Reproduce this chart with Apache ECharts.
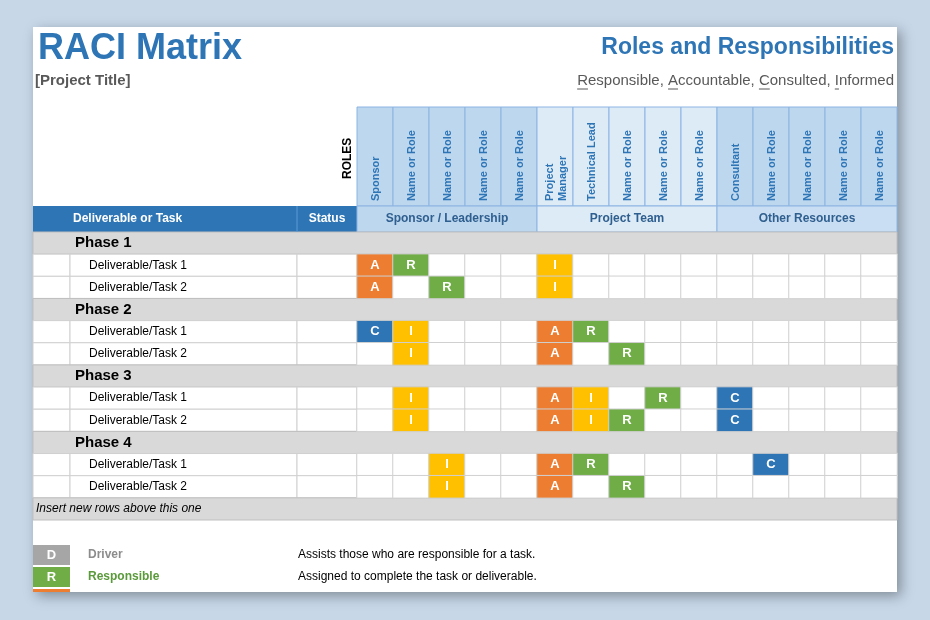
<!DOCTYPE html>
<html><head><meta charset="utf-8">
<script src="https://cdn.jsdelivr.net/npm/echarts@6/dist/echarts.min.js"></script>
<style>html,body{margin:0;background:#c7d7e8}#c{width:930px;height:620px}</style>
</head><body><div id="c"></div>
<script>
var roles = ['Sponsor', 'Name or Role', 'Name or Role', 'Name or Role', 'Name or Role',
    'Project\nManager', 'Technical Lead', 'Name or Role', 'Name or Role', 'Name or Role',
    'Consultant', 'Name or Role', 'Name or Role', 'Name or Role', 'Name or Role'];
var groups = ['Sponsor / Leadership', 'Project Team', 'Other Resources'];
var rows = ['Phase 1', 'Deliverable/Task 1', 'Deliverable/Task 2',
    'Phase 2', 'Deliverable/Task 1', 'Deliverable/Task 2',
    'Phase 3', 'Deliverable/Task 1', 'Deliverable/Task 2',
    'Phase 4', 'Deliverable/Task 1', 'Deliverable/Task 2',
    'Insert new rows above this one'];
// one string per row, one char per role column ('.' = empty, '#' = phase/grey row)
var assign = [
    '###############',
    'AR...I.........',
    'A.R..I.........',
    '###############',
    'CI...AR........',
    '.I...A.R.......',
    '###############',
    '.I...AI.R.C....',
    '.I...AIR..C....',
    '###############',
    '..I..AR....C...',
    '..I..A.R.......',
    '###############'
];
var legend = [['D', 'Driver', 'Assists those who are responsible for a task.'],
    ['R', 'Responsible', 'Assigned to complete the task or deliverable.']];

var letters = ['.', 'A', 'R', 'I', 'C'];
var colors = { A: '#ed7d31', R: '#70ad47', I: '#ffc000', C: '#2e75b6', D: '#a6a6a6' };
var L = 357, T = 232, CW = 36, RH = 288 / rows.length, X0 = 33, X1 = 897;

var data = [];
assign.forEach(function (s, r) {
    if (s[0] === '#') return;
    for (var c = 0; c < s.length; c++) data.push([c, r, letters.indexOf(s[c])]);
});

var ctx = document.createElement('canvas').getContext('2d');
function tw(t, font) { ctx.font = font; return ctx.measureText(t).width; }

var g = [];
g.push({ type: 'rect', z: -20, shape: { x: X0, y: 27, width: X1 - X0, height: 565 },
    style: { fill: '#fff', shadowBlur: 12, shadowColor: 'rgba(0,0,0,0.35)', shadowOffsetX: 4, shadowOffsetY: 4 } });
// titles
g.push({ type: 'text', left: 38, top: 31, style: { text: 'RACI Matrix', font: 'bold 36px Arial, Liberation Sans', fill: '#2e75b6' } });
g.push({ type: 'text', left: 35, top: 73, style: { text: '[Project Title]', font: 'bold 15px Arial, Liberation Sans', fill: '#595959' } });
g.push({ type: 'text', right: 36, top: 36, style: { text: 'Roles and Responsibilities', font: 'bold 23px Arial, Liberation Sans', fill: '#2e75b6' } });
var sub = 'Responsible, Accountable, Consulted, Informed', subFont = '15px Arial, Liberation Sans';
var subX = 894 - tw(sub, subFont);
g.push({ type: 'text', x: subX, y: 73, style: { text: sub, font: subFont, fill: '#595959' } });
['R', 'A', 'C', 'I'].forEach(function (ch) {
    var i = ch === 'R' ? 0 : sub.indexOf(', ' + ch) + 2;
    var x = subX + tw(sub.slice(0, i), subFont);
    g.push({ type: 'line', shape: { x1: x, y1: 89, x2: x + tw(ch, subFont), y2: 89 }, style: { stroke: '#595959', lineWidth: 1 } });
});
// role header cells
var hdrFill = ['#bdd7ee', '#ddebf7', '#bdd7ee'];
var bandFill = ['#bdd7ee', '#ddebf7', '#c9def2'];
roles.forEach(function (name, i) {
    var x = L + i * CW;
    g.push({ type: 'rect', z: -10, shape: { x: x, y: 107, width: CW, height: 99 },
        style: { fill: hdrFill[Math.floor(i / 5)], stroke: '#8db4e2', lineWidth: 1 } });
    g.push({ type: 'text', z: 5, x: x + CW / 2 + 1, y: 201, rotation: Math.PI / 2,
        style: { text: name, font: 'bold 11px Arial, Liberation Sans', fill: '#2e75b6', align: 'left', verticalAlign: 'middle', lineHeight: 13 } });
});
g.push({ type: 'text', x: 348, y: 179, rotation: Math.PI / 2,
    style: { text: 'ROLES', font: 'bold 12px Arial, Liberation Sans', fill: '#000', align: 'left', verticalAlign: 'middle' } });
// header band
g.push({ type: 'rect', z: -10, shape: { x: X0, y: 206, width: L - X0, height: 26 }, style: { fill: '#2e75b6' } });
g.push({ type: 'line', shape: { x1: 297, y1: 206, x2: 297, y2: 232 }, style: { stroke: '#5b9bd5' } });
g.push({ type: 'text', x: 73, y: 219, style: { text: 'Deliverable or Task', font: 'bold 12px Arial, Liberation Sans', fill: '#fff', verticalAlign: 'middle' } });
g.push({ type: 'text', x: 327, y: 219, style: { text: 'Status', font: 'bold 12px Arial, Liberation Sans', fill: '#fff', align: 'center', verticalAlign: 'middle' } });
groups.forEach(function (name, i) {
    var x = L + i * 5 * CW;
    g.push({ type: 'rect', z: -10, shape: { x: x, y: 206, width: 5 * CW, height: 26 },
        style: { fill: bandFill[i], stroke: '#8db4e2', lineWidth: 1 } });
    g.push({ type: 'text', x: x + 2.5 * CW, y: 219, style: { text: name, font: 'bold 12px Arial, Liberation Sans', fill: '#2f5f8f', align: 'center', verticalAlign: 'middle' } });
});
// row structure
rows.forEach(function (name, r) {
    var y = T + r * RH;
    if (assign[r][0] === '#') {
        g.push({ type: 'rect', z: -10, shape: { x: X0, y: y, width: X1 - X0, height: RH },
            style: { fill: '#d9d9d9', stroke: '#bfbfbf', lineWidth: 1 } });
    } else {
        [[X0, 70 - X0], [70, 227], [297, 60]].forEach(function (c) {
            g.push({ type: 'rect', z: -10, shape: { x: c[0], y: y, width: c[1], height: RH },
                style: { fill: '#fff', stroke: '#d0d0d0', lineWidth: 1 } });
        });
    }
});
// legend
legend.forEach(function (l, i) {
    var y = 545 + i * 22;
    g.push({ type: 'rect', shape: { x: X0, y: y, width: 37, height: 20 }, style: { fill: colors[l[0]] } });
    g.push({ type: 'text', x: X0 + 18.5, y: y + 10, style: { text: l[0], font: 'bold 13px Arial, Liberation Sans', fill: '#fff', align: 'center', verticalAlign: 'middle' } });
    g.push({ type: 'text', x: 88, y: y + 10, style: { text: l[1], font: 'bold 12px Arial, Liberation Sans', fill: l[0] === 'D' ? '#8c8c8c' : '#5a9a3a', verticalAlign: 'middle' } });
    g.push({ type: 'text', x: 298, y: y + 10, style: { text: l[2], font: '12px Arial, Liberation Sans', fill: '#000', verticalAlign: 'middle' } });
});
g.push({ type: 'rect', shape: { x: X0, y: 589, width: 37, height: 3 }, style: { fill: colors.A } });

var chart = echarts.init(document.getElementById('c'));
chart.setOption({
    animation: false,
    graphic: g,
    grid: { left: L, top: T, width: CW * roles.length, height: 288 },
    xAxis: { type: 'category', data: roles, show: false },
    yAxis: {
        type: 'category', data: rows, inverse: true,
        axisLine: { show: false }, axisTick: { show: false }, splitLine: { show: false },
        axisLabel: {
            align: 'left', margin: 322,
            formatter: function (v, i) {
                if (i === rows.length - 1) return '{n|' + v + '}';
                return assign[i][0] === '#' ? '{p|' + v + '}' : '{t|' + v + '}';
            },
            rich: {
                p: { fontFamily: 'Arial, Liberation Sans', fontWeight: 'bold', fontSize: 15, color: '#000', padding: [0, 0, 0, 40] },
                t: { fontFamily: 'Arial, Liberation Sans', fontSize: 12, color: '#000', padding: [0, 0, 0, 54] },
                n: { fontFamily: 'Arial, Liberation Sans', fontStyle: 'italic', fontSize: 12, color: '#000', padding: [0, 0, 0, 1] }
            }
        }
    },
    visualMap: {
        show: false, type: 'piecewise', dimension: 2,
        pieces: [
            { value: 0, color: '#fff' },
            { value: 1, color: colors.A },
            { value: 2, color: colors.R },
            { value: 3, color: colors.I },
            { value: 4, color: colors.C }
        ]
    },
    series: [{
        type: 'heatmap',
        data: data,
        itemStyle: { borderColor: '#d0d0d0', borderWidth: 1 },
        label: {
            show: true, formatter: function (p) { var k = p.value[2]; return k ? letters[k] : ''; },
            color: '#fff', fontWeight: 'bold', fontSize: 13, fontFamily: 'Arial, Liberation Sans'
        },
        emphasis: { disabled: true }
    }]
});
</script></body></html>
